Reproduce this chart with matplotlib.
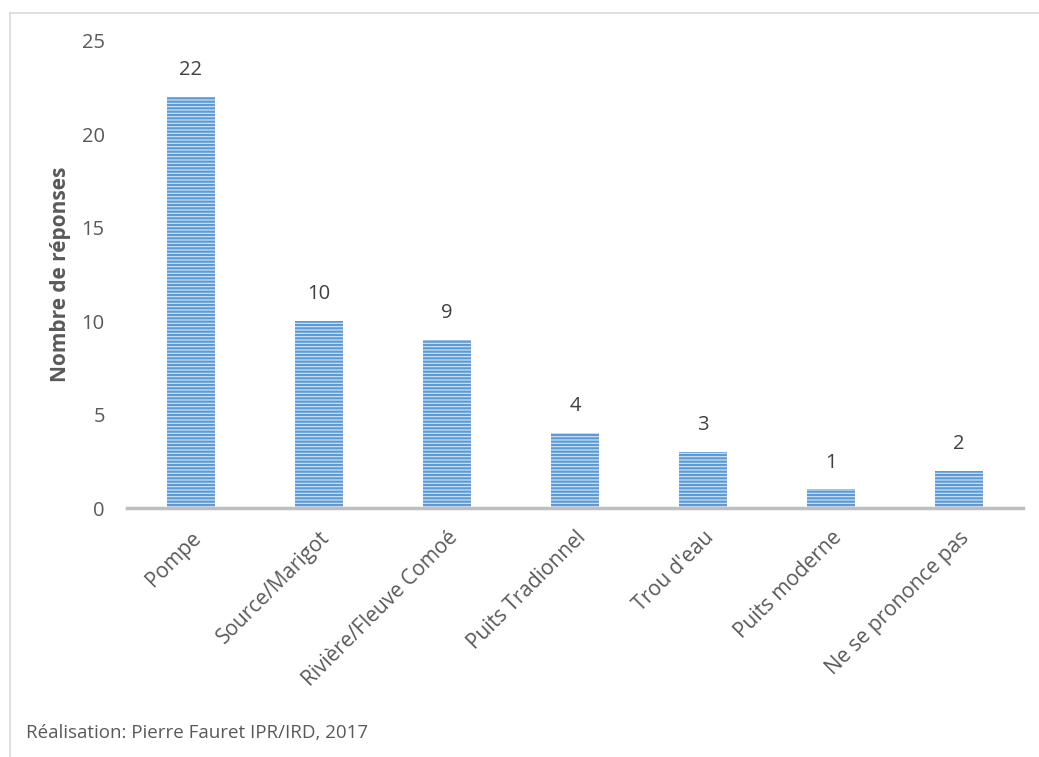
import matplotlib.pyplot as plt
import matplotlib.transforms as mtransforms
from matplotlib.lines import Line2D

# Sources d'eau et nombre de réponses
categories = ["Pompe", "Source/Marigot", "Rivière/Fleuve Comoé", "Puits Tradionnel",
              "Trou d'eau", "Puits moderne", "Ne se prononce pas"]
responses = [22, 10, 9, 4, 3, 1, 2]
y_ticks = [0, 5, 10, 15, 20, 25]

plt.rcParams['font.family'] = ['Open Sans', 'DejaVu Sans']
plt.rcParams['hatch.linewidth'] = 1.6

fig = plt.figure(figsize=(10.39, 7.57), dpi=100)
ax = fig.add_axes([127 / 1039, 1 - 508 / 757, 896 / 1039, 467 / 757])

bars = ax.bar(range(len(categories)), responses, width=0.38,
              color='#D6E6F5', edgecolor='#5B9BD5', linewidth=0, hatch='-----')

for i, v in enumerate(responses):
    ax.text(i, v + 0.9, str(v), ha='center', va='bottom', fontsize=14.5, color='#404040')

ax.set_xlim(-0.5, len(categories) - 0.5)
ax.set_ylim(0, 25)
ax.set_yticks(y_ticks)
ax.set_xticks(range(len(categories)))
ax.set_xticklabels(categories, rotation=45, ha='right', rotation_mode='anchor',
                   fontsize=15, color='#595959')
# léger décalage vers la gauche des étiquettes
shift = mtransforms.ScaledTranslation(-5 / 100, 0, fig.dpi_scale_trans)
for lbl in ax.get_xticklabels():
    lbl.set_transform(lbl.get_transform() + shift)
ax.tick_params(axis='y', length=0, pad=16, labelsize=14.5, labelcolor='#595959')
ax.tick_params(axis='x', length=0, pad=14)

for side in ['top', 'right', 'left']:
    ax.spines[side].set_visible(False)
ax.spines['bottom'].set_color('#BFBFBF')
ax.spines['bottom'].set_linewidth(2.5)

ax.set_ylabel("Nombre de réponses", fontsize=15, fontweight='bold', color='#595959', labelpad=8)

# cadre du graphique
fig.add_artist(Line2D([10 / 1039, 10 / 1039], [0, 1 - 13 / 757], transform=fig.transFigure,
                      color='#D9D9D9', linewidth=1.2))
fig.add_artist(Line2D([10 / 1039, 1], [1 - 13 / 757, 1 - 13 / 757], transform=fig.transFigure,
                      color='#D9D9D9', linewidth=1.2))

fig.text(26 / 1039, 1 - 733 / 757, "Réalisation: Pierre Fauret IPR/IRD, 2017",
         fontsize=13.5, color='#595959', va='center')

fig.savefig("out.png", dpi=100)
